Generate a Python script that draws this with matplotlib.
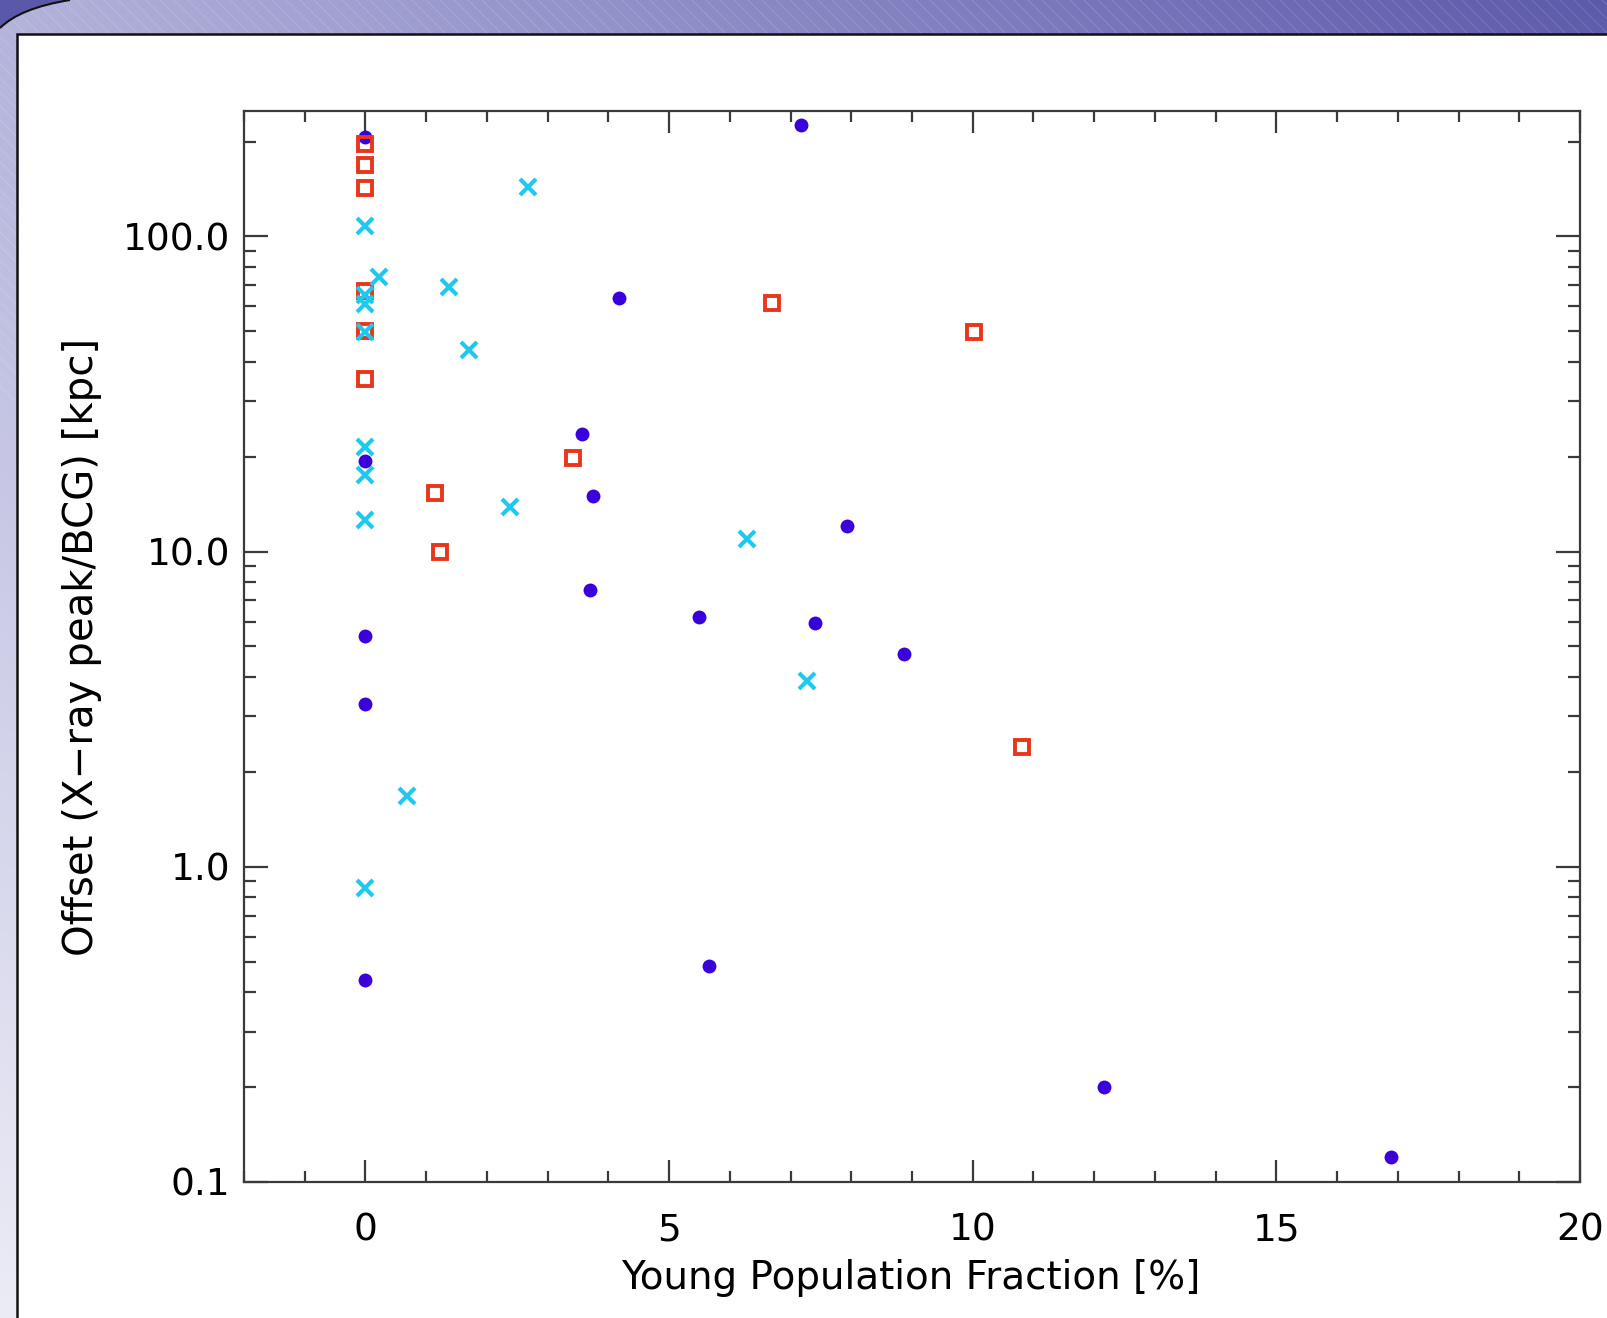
import numpy as np
import matplotlib
matplotlib.use("Agg")
import matplotlib.pyplot as plt
from matplotlib.patches import Rectangle, PathPatch
from matplotlib.path import Path
from matplotlib.ticker import FixedLocator, FuncFormatter, MultipleLocator

# ---------------- data ----------------
circ_x = [0.0, 7.17, 4.18, 3.56, 0.0, 3.74, 7.93, 3.69, 5.50, 7.40, 0.0, 8.87, 0.0, 5.65, 0.0, 12.16, 16.88]
circ_y = [207, 226, 63.8, 23.6, 19.4, 15.0, 12.1, 7.55, 6.22, 5.94, 5.39, 4.75, 3.29, 0.483, 0.439, 0.20, 0.120]

sq_x = [0.0, 0.0, 0.0, 0.0, 0.0, 0.0, 6.69, 10.02, 3.41, 1.15, 1.23, 10.81]
sq_y = [196, 168, 142, 67.2, 50.2, 35.3, 61.5, 49.9, 19.8, 15.3, 10.0, 2.40]

x_x = [2.68, 0.0, 0.22, 1.37, 0.0, 0.0, 0.0, 1.70, 0.0, 0.0, 2.38, 0.0, 6.29, 7.27, 0.69, 0.0]
x_y = [143, 108, 74.1, 69.3, 65.3, 61.0, 49.9, 43.5, 21.4, 17.5, 13.9, 12.6, 11.0, 3.88, 1.68, 0.855]

xlabel = "Young Population Fraction [%]"
ylabel = "Offset (X\u2212ray peak/BCG) [kpc]"
ytick_vals = [0.1, 1.0, 10.0, 100.0]
ytick_labels = ["0.1", "1.0", "10.0", "100.0"]
xtick_vals = [0, 5, 10, 15, 20]

W, H = 1608, 1318
fig = plt.figure(figsize=(W / 100, H / 100), dpi=100)

# ---------------- slide background ----------------
bg = fig.add_axes([0, 0, 1, 1])
bg.set_xlim(0, W)
bg.set_ylim(H, 0)
bg.axis("off")
nx, ny = 400, 330
tx = np.linspace(0, 1, nx)[None, :, None]
ty = np.linspace(0, 1, ny)[:, None, None]
c_left = np.array([0.70, 0.70, 0.86])
c_right = np.array([0.36, 0.35, 0.67])
base = c_left * (1 - tx) + c_right * tx
white = np.array([1.0, 1.0, 1.0])
img = base + (white - base) * (ty * 0.75)
bg.imshow(np.clip(img, 0, 1), extent=[0, W, H, 0], aspect="auto", zorder=0)
for k in range(-400, 1700, 14):
    bg.plot([k, k + 400], [0, 400], color="white", alpha=0.12, lw=0.8, zorder=1)
verts = [(0, 0), (0, 28), (20, 8), (70, 0), (0, 0)]
codes = [Path.MOVETO, Path.LINETO, Path.CURVE3, Path.CURVE3, Path.CLOSEPOLY]
bg.add_patch(PathPatch(Path(verts, codes), facecolor="#5a58a8", edgecolor="none", zorder=2))
sw = Path([(0, 28), (20, 8), (70, 0)], [Path.MOVETO, Path.CURVE3, Path.CURVE3])
bg.add_patch(PathPatch(sw, facecolor="none", edgecolor="#111111", lw=1.5, zorder=3))
bg.add_patch(Rectangle((17, 34), W, H, facecolor="white", edgecolor="#111111", lw=1.8, zorder=4))

# ---------------- plot ----------------
L, R, T, B = 244, 1580, 111, 1182
ax = fig.add_axes([L / W, 1 - B / H, (R - L) / W, (B - T) / H])
ax.set_facecolor("white")
ax.set_yscale("log")
ax.set_xlim(-2, 20)
ax.set_ylim(0.1, 250)

ax.plot(circ_x, circ_y, linestyle="none", marker="o", markersize=10,
        color="#3a00dc", markeredgewidth=0, zorder=3)
ax.plot(sq_x, sq_y, linestyle="none", marker="s", markersize=10.5,
        markerfacecolor="none", markeredgecolor="#e8351c", markeredgewidth=2.8, zorder=4)
ax.plot(x_x, x_y, linestyle="none", marker="x", markersize=11.5,
        color="#1ec8ee", markeredgewidth=3.0, zorder=5)

axis_col = "#3a3a3a"
for s in ax.spines.values():
    s.set_linewidth(1.6)
    s.set_color(axis_col)

ax.xaxis.set_major_locator(FixedLocator(xtick_vals))
ax.xaxis.set_minor_locator(MultipleLocator(1))
ax.yaxis.set_major_locator(FixedLocator(ytick_vals))
ax.yaxis.set_minor_locator(FixedLocator([m * 10.0 ** e for e in range(-1, 3) for m in range(2, 10)]))
ax.yaxis.set_major_formatter(FuncFormatter(lambda v, p: ytick_labels[ytick_vals.index(v)] if v in ytick_vals else ""))
ax.yaxis.set_minor_formatter(FuncFormatter(lambda v, p: ""))

ax.tick_params(axis="both", which="both", direction="in", top=True, right=True,
               color=axis_col, width=1.6)
ax.tick_params(axis="x", which="major", length=16, labelsize=27, pad=22)
ax.tick_params(axis="x", which="minor", length=8)
ax.tick_params(axis="y", which="major", length=17, labelsize=27, pad=10)
ax.tick_params(axis="y", which="minor", length=8.5)

ax.set_xlabel(xlabel, fontsize=28)
ax.set_ylabel(ylabel, fontsize=29)
ax.xaxis.label.set_verticalalignment("center")
ax.xaxis.set_label_coords((911 - L) / (R - L), -(1278 - B) / (B - T))
ax.yaxis.label.set_verticalalignment("center")
ax.yaxis.set_label_coords(-(L - 82) / (R - L), 0.5)

fig.savefig("out.png", dpi=100)
